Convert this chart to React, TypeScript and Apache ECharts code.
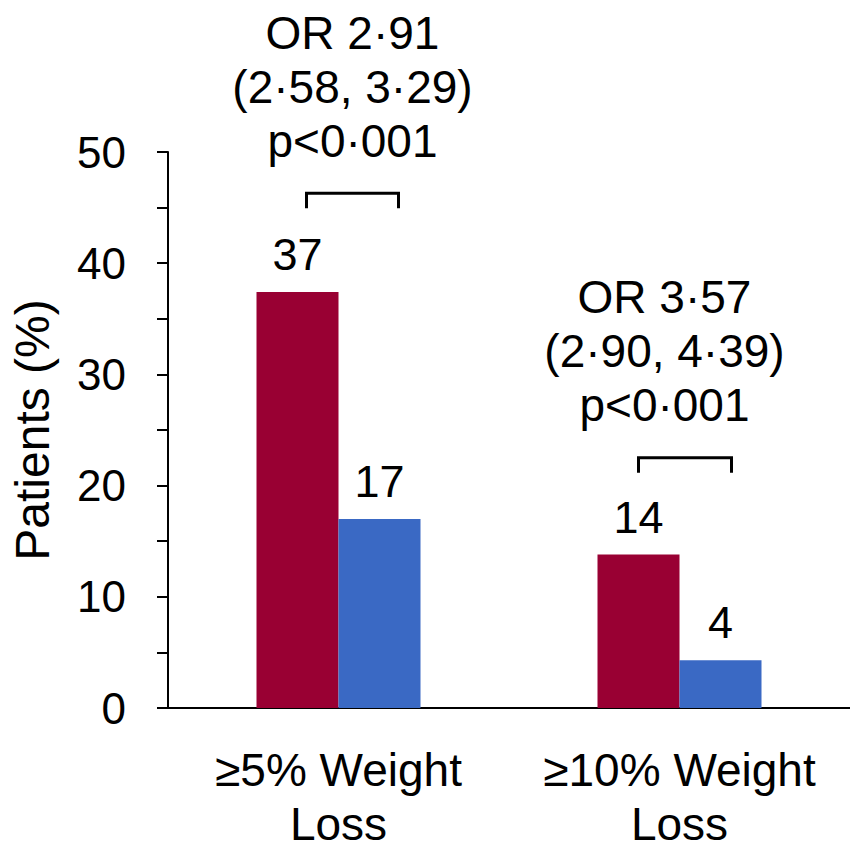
import React, { useEffect, useRef } from "react";
import * as echarts from "echarts";

const categories = ["≥5% Weight\nLoss", "≥10% Weight\nLoss"];
const redValues = [37.4, 13.8];
const blueValues = [17.0, 4.3];
const annotationLines = [
  ["OR 2·91", "(2·58, 3·29)", "p<0·001"],
  ["OR 3·57", "(2·90, 4·39)", "p<0·001"],
];
const bracketLevels = [46.3, 22.5];

// pixel layout of the annotations relative to category centre
const annLayout = [
  { left: -32, right: 60, textDx: 14 },
  { left: -41, right: 52, textDx: -15 },
];

const FONT = "'Liberation Sans', Arial, Helvetica, sans-serif";

export default function App() {
  const ref = useRef<HTMLDivElement>(null);
  useEffect(() => {
    document.body.style.margin = "0";
    const chart = echarts.init(ref.current!, null, { renderer: "svg" });
    chart.setOption({
      animation: false,
      textStyle: { fontFamily: FONT },
      grid: { left: 161, right: 0, top: 152, bottom: 133, containLabel: false },
      xAxis: {
        type: "category",
        data: categories,
        axisLine: { show: true, lineStyle: { color: "#000", width: 2 } },
        axisTick: { show: false },
        axisLabel: {
          color: "#000",
          fontSize: 46,
          lineHeight: 54,
          margin: 35,
          fontFamily: FONT,
          interval: 0,
        },
      },
      yAxis: {
        type: "value",
        min: 0,
        max: 50,
        interval: 10,
        name: "Patients (%)",
        nameLocation: "middle",
        nameRotate: 90,
        nameGap: 112,
        nameTextStyle: { color: "#000", fontSize: 48, fontFamily: FONT, lineHeight: 48 },
        axisLine: { show: true, lineStyle: { color: "#000", width: 2 } },
        axisTick: { show: true, length: 11, lineStyle: { color: "#000", width: 2 } },
        minorTick: { show: true, splitNumber: 2, length: 11, lineStyle: { color: "#000", width: 2 } },
        splitLine: { show: false },
        axisLabel: { color: "#000", fontSize: 44, margin: 42, fontFamily: FONT },
      },
      series: [
        {
          type: "bar",
          data: redValues,
          barWidth: 82,
          barGap: "0%",
          itemStyle: { color: "#990033" },
          label: {
            show: true,
            position: "top",
            distance: 15,
            color: "#000",
            fontSize: 45,
            lineHeight: 45,
            fontFamily: FONT,
            formatter: (p: any) => String(Math.round(p.value)),
          },
        },
        {
          type: "bar",
          data: blueValues,
          barWidth: 82,
          barGap: "0%",
          itemStyle: { color: "#3A69C4" },
          label: {
            show: true,
            position: "top",
            distance: 15,
            color: "#000",
            fontSize: 45,
            lineHeight: 45,
            fontFamily: FONT,
            formatter: (p: any) => String(Math.round(p.value)),
          },
        },
        {
          type: "custom",
          clip: false,
          silent: true,
          data: bracketLevels.map((v, i) => [i, v]),
          renderItem: (params: any, api: any) => {
            const idx = api.value(0);
            const lvl = api.value(1);
            const p = api.coord([idx, lvl]);
            const lay = annLayout[idx];
            const leg = 15;
            return {
              type: "group",
              children: [
                {
                  type: "polyline",
                  shape: {
                    points: [
                      [p[0] + lay.left, p[1] + leg],
                      [p[0] + lay.left, p[1]],
                      [p[0] + lay.right, p[1]],
                      [p[0] + lay.right, p[1] + leg],
                    ],
                  },
                  style: { stroke: "#000", lineWidth: 3, fill: null },
                },
                {
                  type: "text",
                  style: {
                    text: annotationLines[idx].join("\n"),
                    x: p[0] + lay.textDx,
                    y: p[1] - 106.6,
                    align: "center",
                    verticalAlign: "middle",
                    fontSize: 46,
                    lineHeight: 54,
                    fill: "#000",
                    fontFamily: FONT,
                  },
                },
              ],
            };
          },
        },
      ],
    });
    return () => chart.dispose();
  }, []);
  return <div ref={ref} style={{ width: 850, height: 851 }} />;
}
